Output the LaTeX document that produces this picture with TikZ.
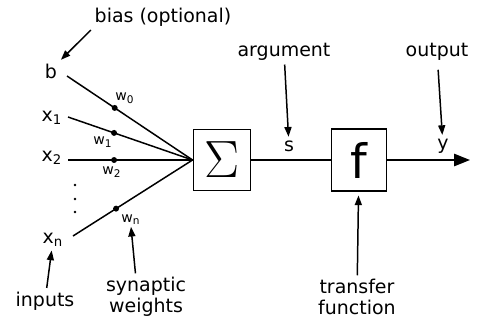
\documentclass[tikz,border=0pt]{standalone}
\usepackage{fontspec}
\setmainfont{DejaVu Sans}
\usetikzlibrary{arrows.meta, positioning}

\begin{document}
\begin{tikzpicture}[
    x=0.02cm, y=-0.02cm,
    every node/.style = {align=center, inner sep=2pt},
    lbl/.style      = {font=\fontsize{10.8}{12}\selectfont},
    inp/.style      = {font=\fontsize{10.8}{12}\selectfont},
    wlbl/.style     = {font=\fontsize{8}{9}\selectfont, inner sep=1pt},
    block/.style    = {draw, line width=1.1pt, inner sep=0pt,
                       minimum width=1.14cm, minimum height=1.22cm},
    dot/.style      = {circle, fill, inner sep=0pt, minimum size=3.4pt},
    vdot/.style     = {circle, fill, inner sep=0pt, minimum size=1.6pt},
    wire/.style     = {line width=0.85pt},
    arrow/.style    = {-{Triangle[length=5.5pt, width=4pt]}, line width=0.85pt},
    outarrow/.style = {-{Triangle[length=9pt, width=7pt]}, line width=0.85pt},
]
\useasboundingbox (0,0) rectangle (477,322);

% --- Eingaenge ---
\node[inp] (b)  at (51,71)  {b};
\node[inp] (x1) at (52,118) {x\textsubscript{1}};
\node[inp] (x2) at (52,158) {x\textsubscript{2}};
\node[inp] (xn) at (53,240) {x\textsubscript{n}};
\coordinate (b-end)  at (67,76);
\coordinate (x1-end) at (68,117);
\coordinate (x2-end) at (68,160);
\coordinate (xn-end) at (73,236);
\foreach \y in {185,199,212}
    \node[vdot] (v\y) at (75,\y) {};

% --- Bloecke ---
\node[block] (sum) at (222,160)
    {\fontsize{24}{24}\selectfont\scalebox{1.2}{$\Sigma$}};
\node[block, minimum width=1.1cm, minimum height=1.24cm]
    (f) at (359,160) {\fontsize{27}{27}\selectfont f};
\coordinate (yout) at (470,160);

% --- Gewichte ---
\draw[wire] (b-end)  -- node[dot, pos=0.38] (d0) {} (sum.west);
\draw[wire] (x1-end) -- node[dot, pos=0.37] (d1) {} (sum.west);
\draw[wire] (x2-end) -- node[dot, pos=0.37] (d2) {} (sum.west);
\draw[wire] (xn-end) -- node[dot, pos=0.36] (dn) {} (sum.west);
\node[wlbl] (w0) at (125,98)  {w\textsubscript{0}};
\node[wlbl] (w1) at (103,142) {w\textsubscript{1}};
\node[wlbl] (w2) at (112,172) {w\textsubscript{2}};
\node[wlbl] (wn) at (131,220) {w\textsubscript{n}};

% --- Signalweg ---
\draw[wire] (sum) -- (f);
\draw[outarrow] (f) -- (yout);

% --- Beschriftungen ---
\node[lbl] (bias)   at (163,17)  {bias (optional)};
\node[lbl] (inputs) at (45,301)  {inputs};
\node[lbl] (synw)   at (146,297) {synaptic\\weights};
\node[lbl] (arg)    at (284,52)  {argument};
\node[lbl] (s)      at (289,146) {s};
\node[lbl] (outlbl) at (437,52)  {output};
\node[lbl] (y)      at (443,146) {y};
\node[lbl] (tf)     at (357,297) {transfer\\function};

% --- Hinweispfeile ---
\draw[arrow] (bias.south west) -- (b.north east);
\draw[arrow] (inputs) -- (xn);
\draw[arrow] ([xshift=-6pt]synw.north) -- (wn.south);
\draw[arrow] (arg) -- (s);
\draw[arrow, shorten <=3pt] (outlbl) -- (y);
\draw[arrow, shorten >=2pt] (tf) -- (f);

\end{tikzpicture}
\end{document}
